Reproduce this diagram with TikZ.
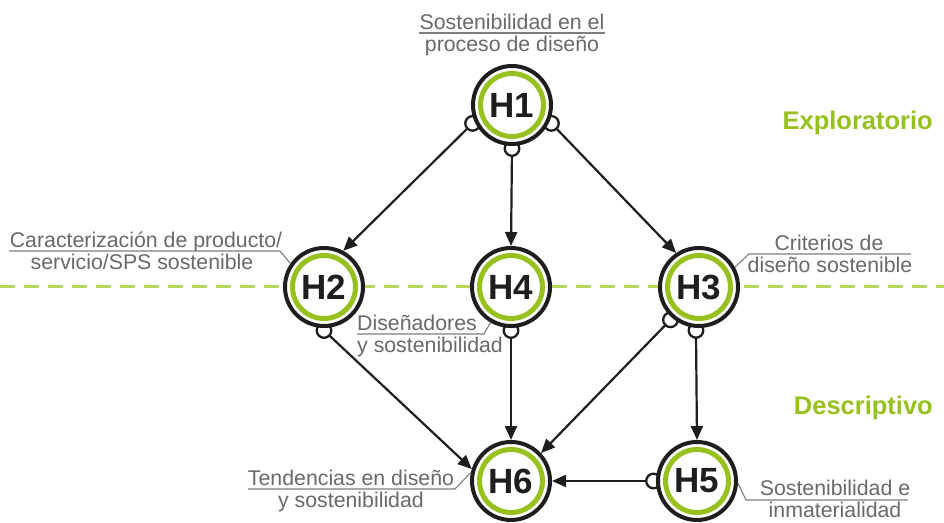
\documentclass[tikz,border=0pt]{standalone}
\usepackage{fontspec}
\setmainfont{Liberation Sans}
\usetikzlibrary{arrows.meta}
\definecolor{hgreen}{RGB}{150,193,30}
\definecolor{dgreen}{RGB}{185,214,90}
\definecolor{tgray}{RGB}{105,105,105}
\definecolor{lgray}{RGB}{125,125,125}
\definecolor{ink}{RGB}{30,30,30}
\pgfdeclarelayer{bg}
\pgfdeclarelayer{mid}
\pgfsetlayers{bg,mid,main}
\begin{document}
\begin{tikzpicture}[x=1pt,y=1pt,
 hnode/.style={circle,draw=ink,line width=4pt,fill=white,minimum size=78pt,inner sep=0pt,font=\fontsize{35}{35}\selectfont\bfseries,text=ink},
 ring/.style={draw=hgreen,line width=5pt},
 bump/.style={draw=ink,line width=2.3pt,fill=white},
 edge/.style={draw=ink,line width=2.2pt,-{Triangle[length=14pt,width=12pt]}},
 lbl/.style={font=\fontsize{21.3}{22}\selectfont,text=tgray,inner sep=0pt,anchor=base},
 leader/.style={draw=lgray,line width=1.1pt},
 level/.style={font=\fontsize{25.5}{26}\selectfont\bfseries,text=hgreen,anchor=east,inner sep=0pt}
]
\useasboundingbox (0,0) rectangle (944,522);

% dashed level line
\coordinate (dl) at (0,235);
\coordinate (dr) at (944,235);
\begin{pgfonlayer}{bg}
\fill[white] (0,0) rectangle (944,522);
\draw[dgreen,line width=3pt,dash pattern=on 15pt off 9pt] (dl) -- (dr);
\end{pgfonlayer}

% main nodes
\node[hnode] (H1) at (512,417) {H1};
\node[hnode] (H2) at (324,235) {H2};
\node[hnode] (H4) at (511,235) {H4};
\node[hnode] (H3) at (699,235) {H3};
\node[hnode] (H6) at (511,41) {H6};
\node[hnode] (H5) at (697,41) {H5};
\foreach \n in {H1,H2,H3,H4,H5,H6} \draw[ring] (\n.center) circle[radius=31.5];

% bump coordinates
\path (H1.center) ++(205:43.5) coordinate (b1l);
\path (H1.center) ++(270:43.5) coordinate (b1b);
\path (H1.center) ++(335:43.5) coordinate (b1r);
\path (H2.center) ++(270:43.5) coordinate (b2);
\path (H4.center) ++(270:43.5) coordinate (b4);
\path (H3.center) ++(229:43.5) coordinate (b3l);
\path (H3.center) ++(266:43.5) coordinate (b3b);
\path (H5.center) ++(180:43.5) coordinate (b5);

\begin{pgfonlayer}{mid}
\draw[edge] (b1l) -- (H2.62);
\draw[edge] (b1b) -- (H4.90);
\draw[edge] (b1r) -- (H3.124);
\draw[edge] (b2) -- (H6.163);
\draw[edge] (b4) -- (H6.90);
\draw[edge] (b3l) -- (H6.43);
\draw[edge] (b3b) -- (H5.90);
\draw[edge] (b5) -- (H6.0);
\foreach \b in {b1l,b1b,b1r,b2,b4,b3l,b3b,b5} \draw[bump] (\b) circle[radius=7.3];
\end{pgfonlayer}

% labels
\node[lbl] (t1a) at (512,492.5) {Sostenibilidad en el};
\node[lbl] (t1b) at (512,470.5) {proceso de diseño};
\coordinate (u1a) at (419,489);
\coordinate (u1b) at (605,489);
\draw[leader] (u1a) -- (u1b);

\node[lbl] (t2a) at (146,274.5) {Caracterización de producto/};
\node[lbl] (t2b) at (142,252.5) {servicio/SPS sostenible};
\coordinate (u2a) at (9,271);
\coordinate (u2b) at (280,271);
\draw[leader] (u2a) -- (u2b) -- (H2.145);

\node[lbl] (t3a) at (829,271.5) {Criterios de};
\node[lbl] (t3b) at (830,249.5) {diseño sostenible};
\coordinate (u3a) at (911,268);
\coordinate (u3b) at (749,268);
\draw[leader] (u3a) -- (u3b) -- (H3.29);

\node[lbl,anchor=base west] (t4a) at (357,191.5) {Diseñadores};
\node[lbl,anchor=base west] (t4b) at (357,169.5) {y sostenibilidad};
\coordinate (u4a) at (357,188);
\coordinate (u4b) at (484,188);
\draw[leader] (u4a) -- (u4b) -- (H4.240);

\node[lbl] (t6a) at (351,36.5) {Tendencias en diseño};
\node[lbl] (t6b) at (351,14.5) {y sostenibilidad};
\coordinate (u6a) at (248,33);
\coordinate (u6b) at (455,33);
\draw[leader] (u6a) -- (u6b) -- (H6.168);

\node[lbl] (t5a) at (835,27) {Sostenibilidad e};
\node[lbl] (t5b) at (835,5) {inmaterialidad};
\coordinate (u5a) at (908,22);
\coordinate (u5b) at (746,22);
\draw[leader] (u5a) -- (u5b) -- (H5.-3);

\node[level] (lvE) at (933,399) {Exploratorio};
\node[level] (lvD) at (933,114) {Descriptivo};
\end{tikzpicture}
\end{document}
